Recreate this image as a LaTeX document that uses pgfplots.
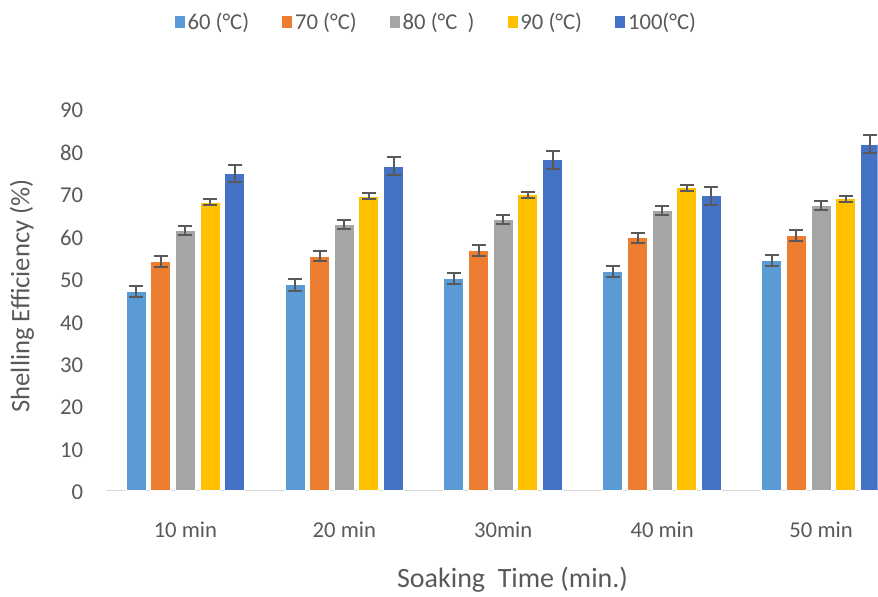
\documentclass[border=0pt]{standalone}
\usepackage{fontspec}
\setmainfont{Carlito}
\usepackage{pgfplots}
\pgfplotsset{compat=1.18}

\definecolor{c60}{HTML}{5B9BD5}
\definecolor{c70}{HTML}{ED7D31}
\definecolor{c80}{HTML}{A5A5A5}
\definecolor{c90}{HTML}{FFC000}
\definecolor{c100}{HTML}{4472C4}
\definecolor{txt}{HTML}{595959}
\definecolor{errc}{HTML}{595959}
\definecolor{axln}{HTML}{D9D9D9}

\pgfplotsset{
  eb/.style={error bars/.cd, y dir=both, y explicit,
    error bar style={line width=1.5pt, errc},
    error mark options={rotate=90, mark size=5.25pt, line width=1.5pt, errc}},
}

\begin{document}
\begin{tikzpicture}
\path (0,0) rectangle (658.5pt,447pt);
\begin{axis}[
    at={(79.5pt,78.75pt)}, anchor=south west,
    scale only axis, width=579pt, height=286.5pt,
    xmin=-0.5, xmax=4.355, ymin=0, ymax=90,
    axis x line*=bottom, axis y line*=left,
    x axis line style={axln, line width=0.75pt, -},
    y axis line style={draw=none},
    major tick length=0pt,
    ytick={0,10,...,90},
    xtick={0,1,2,3,4},
    xticklabels={10 min,20 min,30min,40 min,50 min},
    /pgf/number format/assume math mode=true,
    tick label style={font=\fontsize{17}{20}\selectfont, text=txt},
    xticklabel style={anchor=base, yshift=-35.25pt},
    yticklabel style={anchor=base east, inner sep=0pt, xshift=-17pt, yshift=-6.75pt},
    xlabel={Soaking~~Time (min.)},
    ylabel={Shelling Efficiency (\%)},
    every axis x label/.style={at={(axis description cs:0.527,0)}, anchor=base,
      yshift=-72.75pt, font=\fontsize{21}{24}\selectfont, text=txt},
    every axis y label/.style={at={(axis description cs:0,0.5105)}, anchor=center,
      rotate=90, yshift=63pt, font=\fontsize{20}{24}\selectfont, text=txt},
    ybar, bar width=0.126,
    legend style={at={(axis description cs:0.4288,1.2277)}, anchor=center,
      draw=none, fill=none, legend columns=5,
      font=\fontsize{17}{20}\selectfont, text=txt,
      /tikz/every even column/.append style={column sep=23pt}},
    legend image code/.code={\fill[#1, draw=none] (0pt,-4.5pt) rectangle (7.5pt,4.5pt);},
    clip=true, clip bounding box=upper bound,
  ]
  \addplot[fill=c60, draw=white, line width=0.75pt, bar shift=-0.31, eb]
    coordinates {(0,47.0) +- (0,1.3) (1,48.5) +- (0,1.3) (2,50.0) +- (0,1.3) (3,51.6) +- (0,1.3) (4,54.2) +- (0,1.3)};
  \addplot[fill=c70, draw=white, line width=0.75pt, bar shift=-0.155, eb]
    coordinates {(0,54.0) +- (0,1.25) (1,55.3) +- (0,1.25) (2,56.7) +- (0,1.25) (3,59.6) +- (0,1.25) (4,60.1) +- (0,1.25)};
  \addplot[fill=c80, draw=white, line width=0.75pt, bar shift=0, eb]
    coordinates {(0,61.3) +- (0,1.1) (1,62.8) +- (0,1.1) (2,64.0) +- (0,1.1) (3,66.1) +- (0,1.1) (4,67.2) +- (0,1.1)};
  \addplot[fill=c90, draw=white, line width=0.75pt, bar shift=0.155, eb]
    coordinates {(0,68.0) +- (0,0.7) (1,69.4) +- (0,0.7) (2,69.8) +- (0,0.7) (3,71.4) +- (0,0.7) (4,68.8) +- (0,0.7)};
  \addplot[fill=c100, draw=white, line width=0.75pt, bar shift=0.31, eb]
    coordinates {(0,74.8) +- (0,2.1) (1,76.5) +- (0,2.1) (2,78.0) +- (0,2.1) (3,69.5) +- (0,2.1) (4,81.7) +- (0,2.1)};
  \legend{60 (°C),70 (°C),80 (°C\ \ ),90 (°C),100(°C)}
\end{axis}
\end{tikzpicture}
\end{document}
